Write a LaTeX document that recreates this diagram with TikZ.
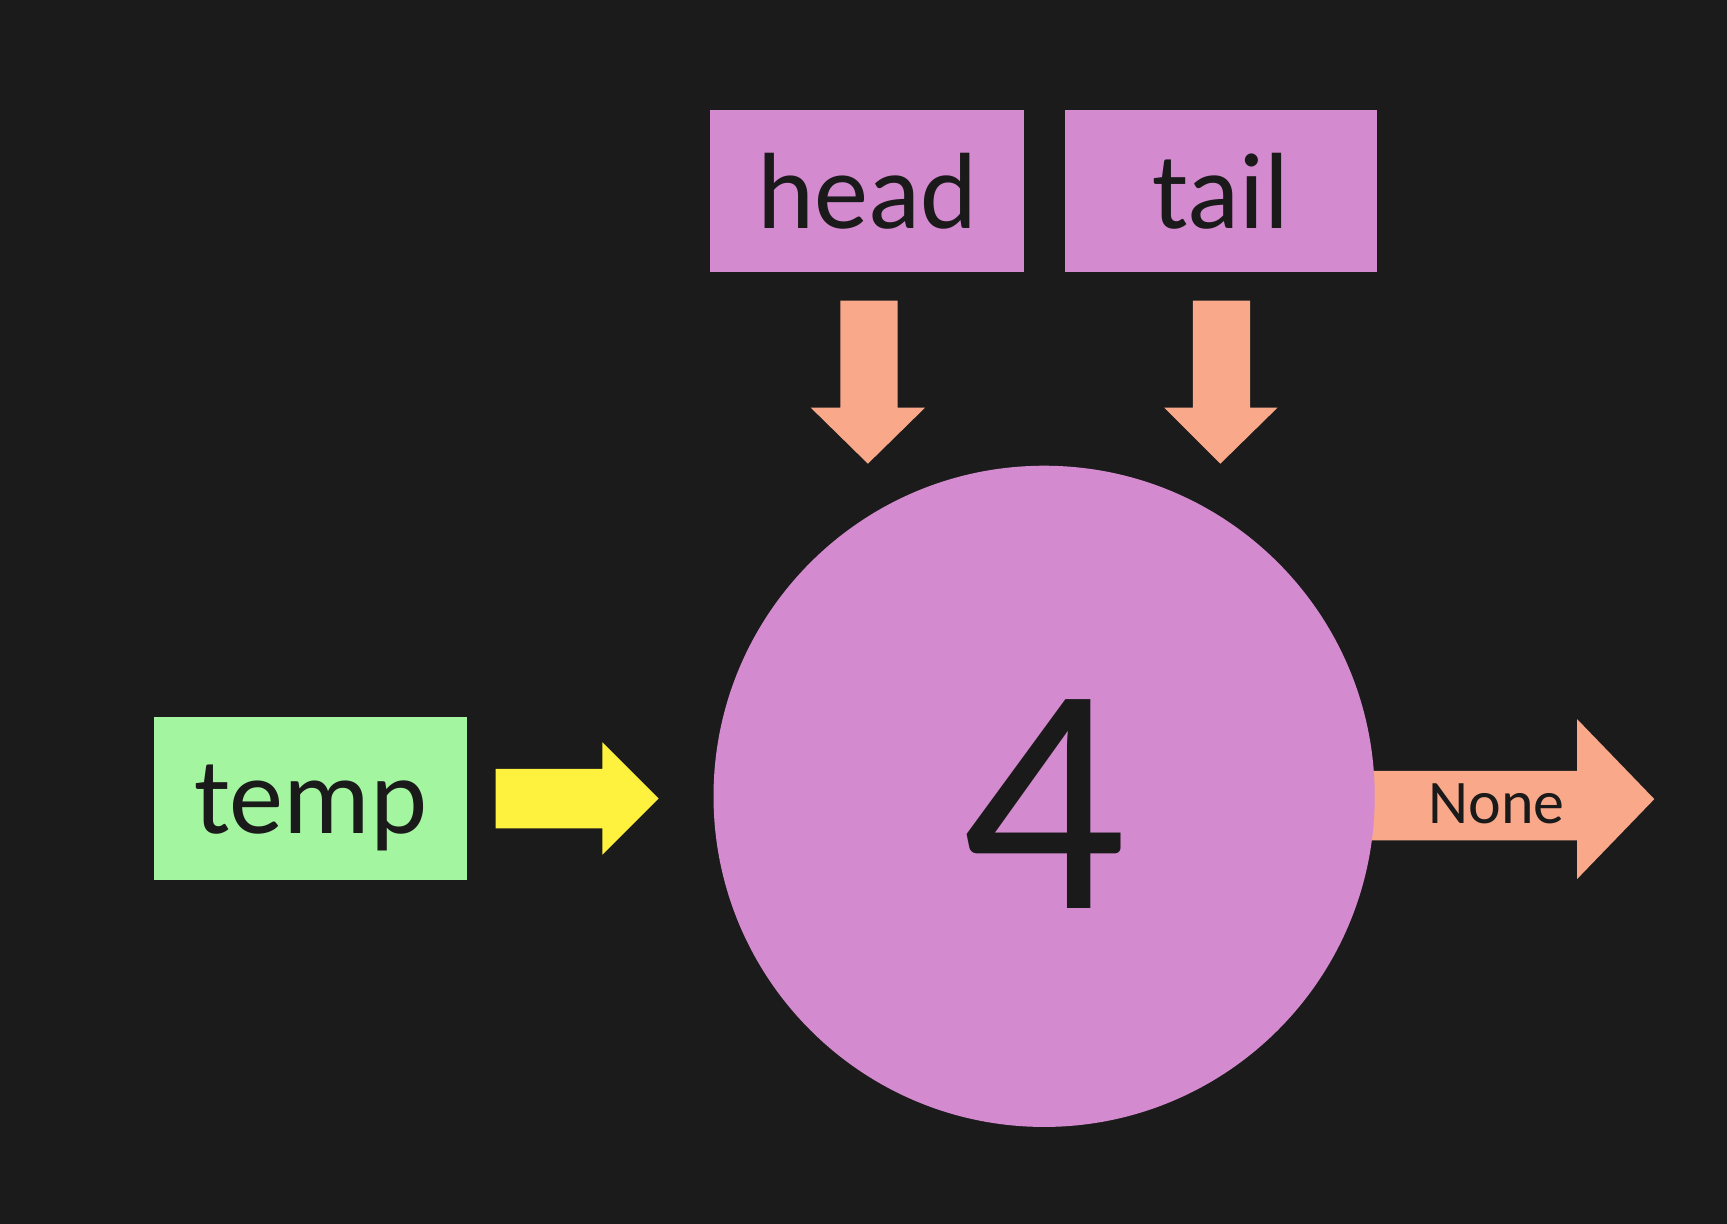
\documentclass[tikz,border=0pt]{standalone}
\usepackage{fontspec}
\setmainfont{Carlito}
\definecolor{bg}{HTML}{1B1B1B}
\definecolor{nodepink}{HTML}{D48ACF}
\definecolor{salmon}{HTML}{F9A98A}
\definecolor{tempgreen}{HTML}{A3F5A0}
\definecolor{arrowyellow}{HTML}{FFF23F}
\definecolor{ink}{HTML}{1A1A1A}
\begin{document}
\begin{tikzpicture}[x=0.01cm,y=-0.01cm,
  box/.style={rectangle,draw=none,inner sep=0pt,text=ink,
    font=\fontsize{28pt}{33pt}\selectfont,text depth=0pt}]
\fill[bg] (0,0) rectangle (1568,1111);
\useasboundingbox (0,0) rectangle (1568,1111);
% boxes
\node[box,fill=nodepink,minimum width=2.85cm,minimum height=1.47cm,text height=0.67cm] (head) at (787.5,173.5) {head};
\node[box,fill=nodepink,minimum width=2.83cm,minimum height=1.47cm,text height=0.67cm] (tail) at (1108.5,173.5) {tail};
\node[box,fill=tempgreen,minimum width=2.84cm,minimum height=1.48cm,text height=0.64cm] (temp) at (282,725) {temp};
% None arrow (behind the circle)
\fill[salmon] (1230,700) -- (1432,700) -- (1432,653) -- (1502,725.5) -- (1432,798) -- (1432,763) -- (1230,763) -- cycle;
% circle
\node[circle,fill=nodepink,draw=none,minimum size=6cm,inner sep=0pt,text=ink,
  font=\fontsize{84pt}{90pt}\selectfont,text height=2.04cm,text depth=0pt] (four) at (948,723) {4};
\node[inner sep=0pt,text=ink,font=\fontsize{16pt}{19pt}\selectfont,text height=0.34cm,text depth=0pt] (none) at (1359,731) {None};
% down arrows
\fill[salmon] (763,273) -- (815,273) -- (815,370) -- (840,370) -- (788,421) -- (736,370) -- (763,370) -- cycle;
\fill[salmon] (1083,273) -- (1135,273) -- (1135,370) -- (1160,370) -- (1108,421) -- (1057,370) -- (1083,370) -- cycle;
% yellow arrow
\fill[arrowyellow] (450,698) -- (547,698) -- (547,674) -- (598,725) -- (547,776) -- (547,752) -- (450,752) -- cycle;
\end{tikzpicture}
\end{document}
